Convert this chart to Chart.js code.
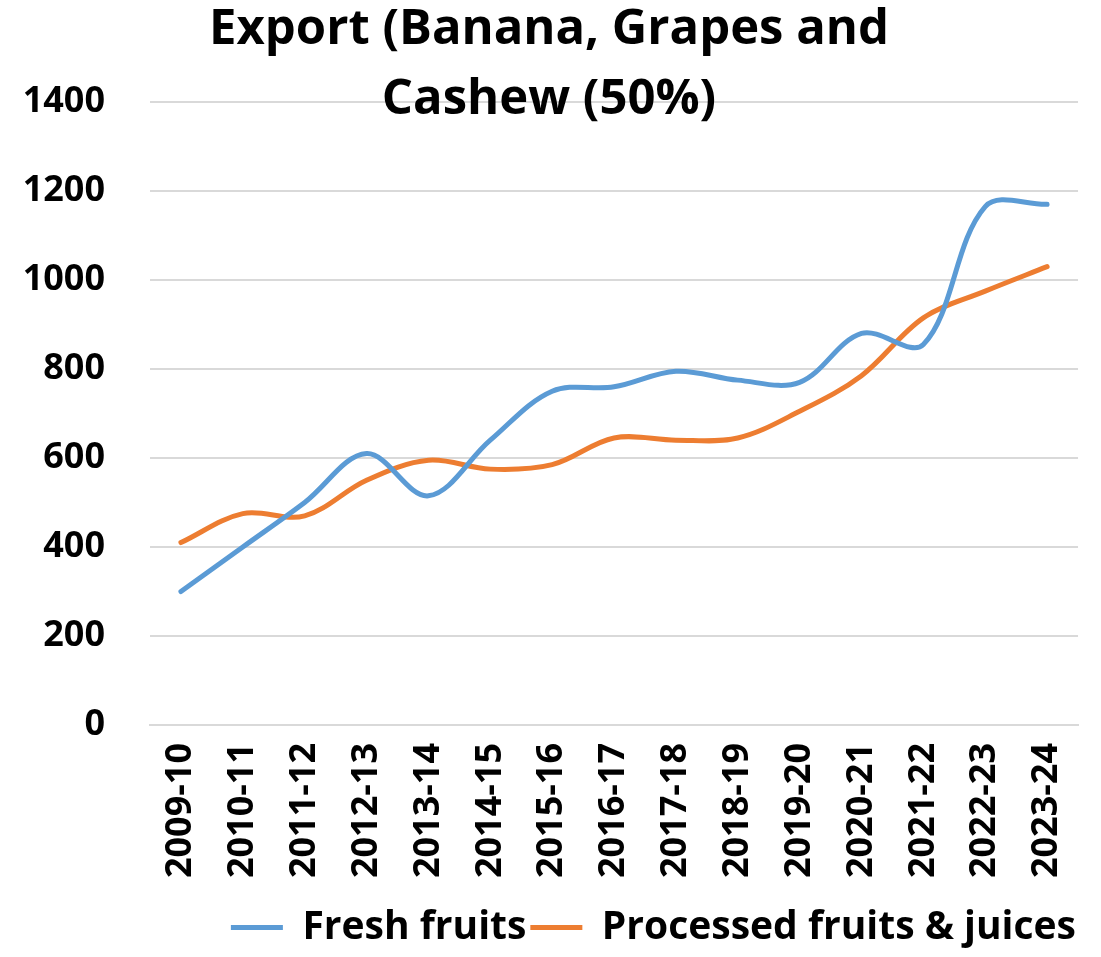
<!DOCTYPE html>
<html>
<head>
<meta charset="utf-8">
<script src="https://cdn.jsdelivr.net/npm/chart.js@4/dist/chart.umd.min.js"></script>
<style>
	html, body {margin: 0; padding: 0; background: #ffffff;}
	#wrap {position: relative; width: 1101px; height: 957px;}
</style>
</head>
<body>
<div id="wrap"><canvas id="chart"></canvas></div>
<script>
var years = ['2009-10', '2010-11', '2011-12', '2012-13', '2013-14', '2014-15', '2015-16', '2016-17',
	'2017-18', '2018-19', '2019-20', '2020-21', '2021-22', '2022-23', '2023-24'];

var freshFruits = [300, 400, 500, 610, 515, 640, 750, 760, 795, 775, 770, 880, 855, 1165, 1170];
var processedFruits = [410, 475, 470, 550, 595, 575, 585, 645, 640, 645, 705, 785, 915, 975, 1030];

var titleLines = ['Export (Banana, Grapes and', 'Cashew (50%)'];

var fontFamily = '"Open Sans", Lato, sans-serif';

// title sits over the top grid line, so draw it ourselves instead of the title plugin
var titleOverlay =
{
	id: 'titleOverlay',
	afterDraw: function (chart)
	{
		var ctx = chart.ctx;
		ctx.save();
		ctx.fillStyle = '#000000';
		ctx.font = 'bold 49px ' + fontFamily;
		ctx.textAlign = 'center';
		ctx.textBaseline = 'middle';
		ctx.fillText(titleLines[0], 549, 30);
		ctx.fillText(titleLines[1], 549, 100);
		ctx.restore();
	}
};

new Chart(document.getElementById('chart'),
{
	type: 'line',
	data:
	{
		labels: years,
		datasets:
		[
			{
				label: 'Fresh fruits',
				data: freshFruits,
				borderColor: '#5B9BD5',
				backgroundColor: '#5B9BD5',
				borderWidth: 5,
				tension: 0.35,
				pointRadius: 0,
				borderCapStyle: 'round'
			},
			{
				label: 'Processed fruits & juices',
				data: processedFruits,
				borderColor: '#ED7D31',
				backgroundColor: '#ED7D31',
				borderWidth: 5,
				tension: 0.35,
				pointRadius: 0,
				borderCapStyle: 'round'
			}
		]
	},
	options:
	{
		responsive: true,
		maintainAspectRatio: false,
		animation: false,
		layout: {padding: {top: 102, right: 21, left: 8, bottom: 0}},
		plugins:
		{
			title: {display: false},
			tooltip: {enabled: false},
			legend:
			{
				position: 'bottom',
				align: 'end',
				labels:
				{
					usePointStyle: true,
					pointStyle: 'line',
					pointStyleWidth: 52,
					color: '#000000',
					padding: 4,
					font: {family: fontFamily, size: 39, weight: 'bold'}
				}
			}
		},
		scales:
		{
			x:
			{
				offset: true,
				grid: {display: false},
				border: {display: true, color: '#d9d9d9', width: 2},
				afterFit: function (scale) {scale.height = 179},
				ticks:
				{
					color: '#000000',
					maxRotation: 90,
					minRotation: 90,
					padding: 10,
					font: {family: fontFamily, size: 36, weight: 'bold'}
				}
			},
			y:
			{
				min: 0,
				max: 1400,
				grid: {color: '#d9d9d9', lineWidth: 2, drawTicks: false},
				border: {display: false},
				afterFit: function (scale) {scale.width = 142},
				ticks:
				{
					stepSize: 200,
					color: '#000000',
					padding: 45,
					font: {family: fontFamily, size: 36, weight: 'bold'},
					callback: function (value) {return String(value)}
				}
			}
		}
	},
	plugins: [titleOverlay]
});
</script>
</body>
</html>
